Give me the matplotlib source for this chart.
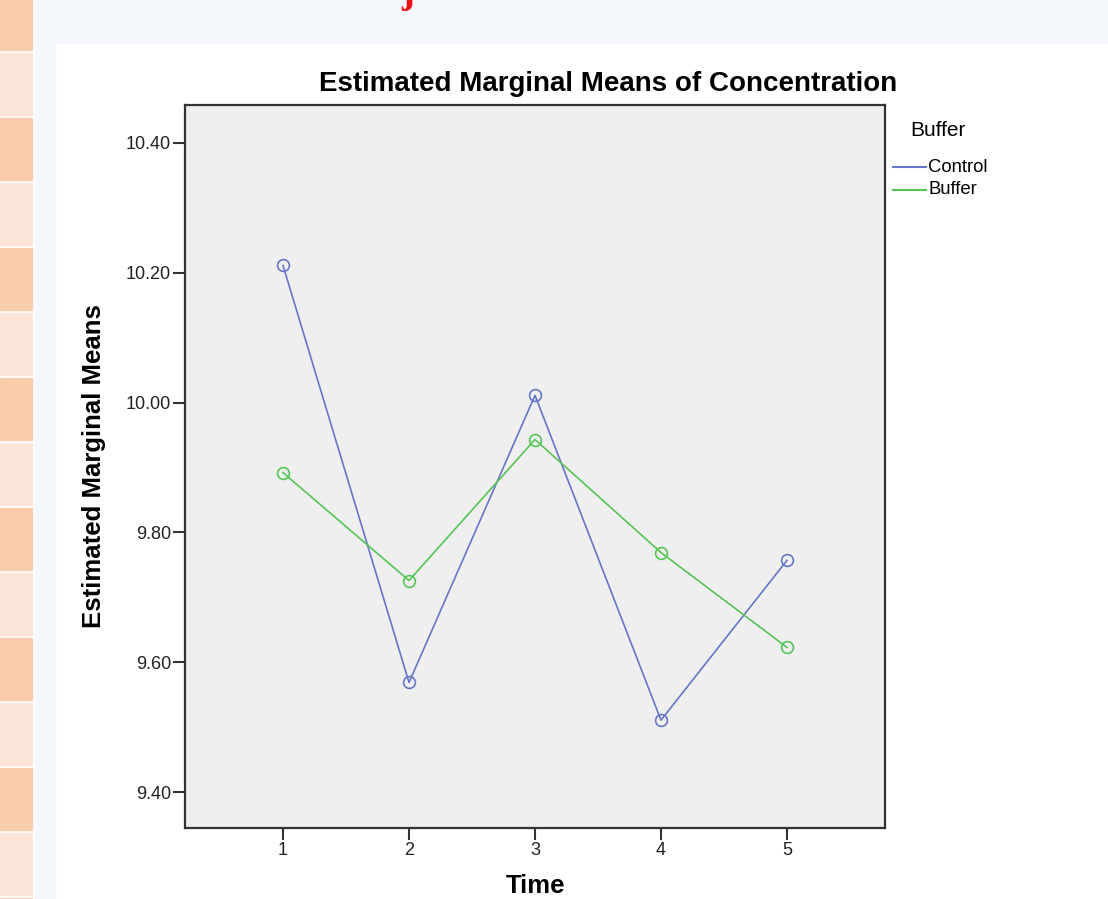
import matplotlib.pyplot as plt
from matplotlib.patches import Rectangle
from matplotlib.lines import Line2D

plt.rcParams['font.family'] = ['Liberation Sans', 'DejaVu Sans']

# estimated marginal means
time_points = [1, 2, 3, 4, 5]
control_means = [10.211, 9.569, 10.011, 9.511, 9.757]
buffer_means = [9.892, 9.726, 9.943, 9.769, 9.623]
y_ticks = [9.40, 9.60, 9.80, 10.00, 10.20, 10.40]

W, H = 1108, 899
control_color = '#6577C6'
buffer_color = '#55C655'


def px_box(x0, y0, x1, y1):
    """Pixel box (top-left origin) to figure fractions for a Rectangle."""
    return (x0 / W, 1 - y1 / H), (x1 - x0) / W, (y1 - y0) / H


def main():
    fig = plt.figure(figsize=(W / 100, H / 100), dpi=100)
    fig.patch.set_facecolor('white')

    # page backdrop: light blue column and top band, white panel
    for box, col in [((35, 0, W, 43), '#F4F7FC'), ((35, 0, 55, H), '#F4F7FC')]:
        xy, w, h = px_box(*box)
        fig.patches.append(Rectangle(xy, w, h, transform=fig.transFigure,
                                     color=col, zorder=0))

    # left strip of alternating peach cells
    y = -12
    k = 0
    while y < H:
        col = '#F7CBAB' if k % 2 == 0 else '#FCE4D8'
        xy, w, h = px_box(0, y, 32, y + 62)
        fig.patches.append(Rectangle(xy, w, h, transform=fig.transFigure,
                                     color=col, zorder=0))
        y += 65
        k += 1

    # cut-off red glyph of the page heading
    fig.text(408 / W, 1 - 11 / H, 'j', color='#EE1111', fontsize=28,
             fontweight='bold', family='Liberation Serif',
             ha='center', va='bottom')

    ax = fig.add_axes([185 / W, 1 - 828 / H, 700 / W, 723 / H])
    ax.set_facecolor('#EFEFEF')

    ax.plot(time_points, control_means, color=control_color, lw=1.2,
            marker='o', ms=8.5, mfc='none', mew=1.2, zorder=3)
    ax.plot(time_points, buffer_means, color=buffer_color, lw=1.2,
            marker='o', ms=8.5, mfc='none', mew=1.2, zorder=3)

    ax.set_xlim(0.222, 5.778)
    ax.set_ylim(9.345, 10.458)
    ax.set_xticks(time_points)
    ax.set_xticklabels([str(t) for t in time_points])
    ax.set_yticks(y_ticks)
    ax.set_yticklabels([f'{v:.2f}' for v in y_ticks])
    ax.tick_params(length=8.5, width=1.5, color='#333333',
                   labelsize=13, labelcolor='#222222', pad=1.5)
    for s in ax.spines.values():
        s.set_color('#333333')
        s.set_linewidth(1.6)

    fig.text(608 / W, 1 - 84 / H, 'Estimated Marginal Means of Concentration',
             fontsize=20, fontweight='bold', ha='center', va='center')
    fig.text(94 / W, 1 - 466 / H, 'Estimated Marginal Means', fontsize=18.5,
             fontweight='bold', rotation=90, ha='center', va='center')
    fig.text(536 / W, 1 - 886 / H, 'Time', fontsize=18.5,
             fontweight='bold', ha='center', va='center')

    # legend drawn by hand to the right of the plot
    fig.text(910 / W, 1 - 130 / H, 'Buffer', fontsize=15, va='center')
    for yy, col, lab in [(167, control_color, 'Control'),
                         (190, buffer_color, 'Buffer')]:
        fig.lines.append(Line2D([893 / W, 926 / W], [1 - yy / H] * 2,
                                transform=fig.transFigure, color=col, lw=1.5))
        fig.text(928 / W, 1 - yy / H, lab, fontsize=13.3, va='center')

    fig.savefig('out.png', dpi=100)


if __name__ == '__main__':
    main()
